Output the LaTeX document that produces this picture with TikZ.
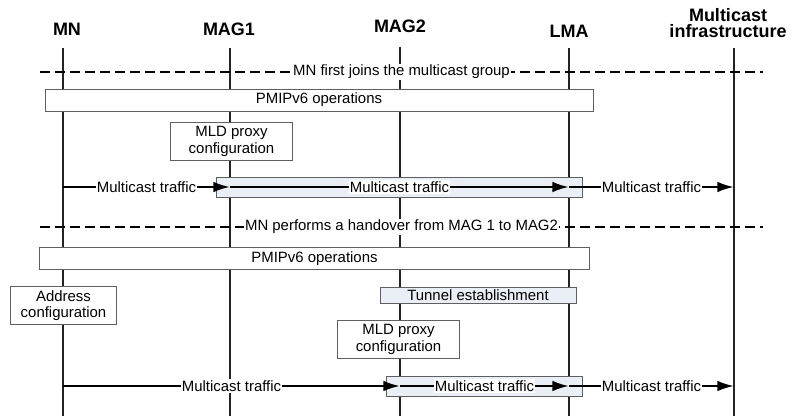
\documentclass[tikz,border=0pt]{standalone}
\usepackage{fontspec}
\setmainfont{Liberation Sans}
\usetikzlibrary{arrows.meta,positioning,calc}
\definecolor{line-color}{RGB}{35,35,35}
\definecolor{box-color}{RGB}{95,95,95}
\definecolor{tunnel-color}{RGB}{234,238,245}
\tikzset{
  actor/.style={font=\fontsize{13.5}{12.5}\selectfont\bfseries, align=center, inner sep=0},
  lifeline/.style={draw=line-color, line width=0.8pt},
  phase/.style={line width=1.3pt, dash pattern=on 7.5pt off 3.75pt},
  phase-label/.style={fill=white, inner sep=1pt, font=\fontsize{11.2}{13}\selectfont},
  op/.style={draw=box-color, fill=white, line width=0.6pt, inner sep=0.5pt,
    align=center, font=\fontsize{11.2}{12.5}\selectfont},
  tunnel/.style={op, fill=tunnel-color},
  traffic/.style={-{Latex[length=12.5pt,width=8pt]}, line width=1.8pt},
  traffic-label/.style={fill=white, inner sep=1pt, font=\fontsize{11.2}{13}\selectfont}
}

\begin{document}
\begin{tikzpicture}[x=0.75pt, y=-0.75pt]
  \useasboundingbox (0,0) rectangle (795,416);
  \coordinate (bottom) at (0,416);
  % actors and lifelines
  \node[actor] (MN) at (67,29) {MN};
  \node[actor] (MAG1) at (229,29) {MAG1};
  \node[actor] (MAG2) at (400,26) {MAG2};
  \node[actor] (LMA) at (569,31) {LMA};
  \node[actor] (MI) at (728,23) {Multicast\\infrastructure};
  \coordinate (mn) at (63,48);
  \coordinate (mag1) at (230,48);
  \coordinate (mag2) at (400,47);
  \coordinate (lma) at (569,48);
  \coordinate (mi) at (734,48);
  \foreach \l in {mn,mag1,mag2,lma,mi}
    \draw[lifeline] (\l) -- (\l |- bottom);

  % MN first joins the multicast group
  \coordinate (phase1-l) at (40,72);
  \coordinate (phase1-r) at (763,72);
  \draw[phase] (phase1-l) -- node[phase-label] {MN first joins the multicast group} (phase1-r);
  \node[op, minimum width=411pt, minimum height=16.5pt] (pmip1) at (319,100) {PMIPv6 operations};
  \node[op, minimum width=92pt, minimum height=28pt] (mld1) at (231.5,141.5) {MLD proxy\\configuration};
  \node[tunnel, minimum width=274pt, minimum height=15pt] (tbox1) at (399.5,187) {};
  \draw[traffic] (mn |- tbox1) -- node[traffic-label] {Multicast traffic} (mag1 |- tbox1);
  \draw[traffic] (mag1 |- tbox1) -- node[traffic-label] {Multicast traffic} (lma |- tbox1);
  \draw[traffic] (lma |- tbox1) -- node[traffic-label] {Multicast traffic} (mi |- tbox1);

  % handover
  \coordinate (phase2-l) at (40,227);
  \coordinate (phase2-r) at (763,227);
  \draw[phase] (phase2-l) -- node[phase-label] {MN performs a handover from MAG 1 to MAG2} (phase2-r);
  \node[op, minimum width=412pt, minimum height=17pt] (pmip2) at (314.5,258.5) {PMIPv6 operations};
  \node[op, minimum width=80pt, minimum height=28pt] (addr) at (63.5,305.5) {Address\\configuration};
  \node[tunnel, minimum width=147pt, minimum height=12pt] (tunnel) at (478,295) {Tunnel establishment};
  \node[op, minimum width=92pt, minimum height=28pt] (mld2) at (398.5,339.5) {MLD proxy\\configuration};
  \node[tunnel, minimum width=147pt, minimum height=15pt] (tbox2) at (484,386) {};
  \draw[traffic] (mn |- tbox2) -- node[traffic-label] {Multicast traffic} (mag2 |- tbox2);
  \draw[traffic] (mag2 |- tbox2) -- node[traffic-label] {Multicast traffic} (lma |- tbox2);
  \draw[traffic] (lma |- tbox2) -- node[traffic-label] {Multicast traffic} (mi |- tbox2);
\end{tikzpicture}
\end{document}
